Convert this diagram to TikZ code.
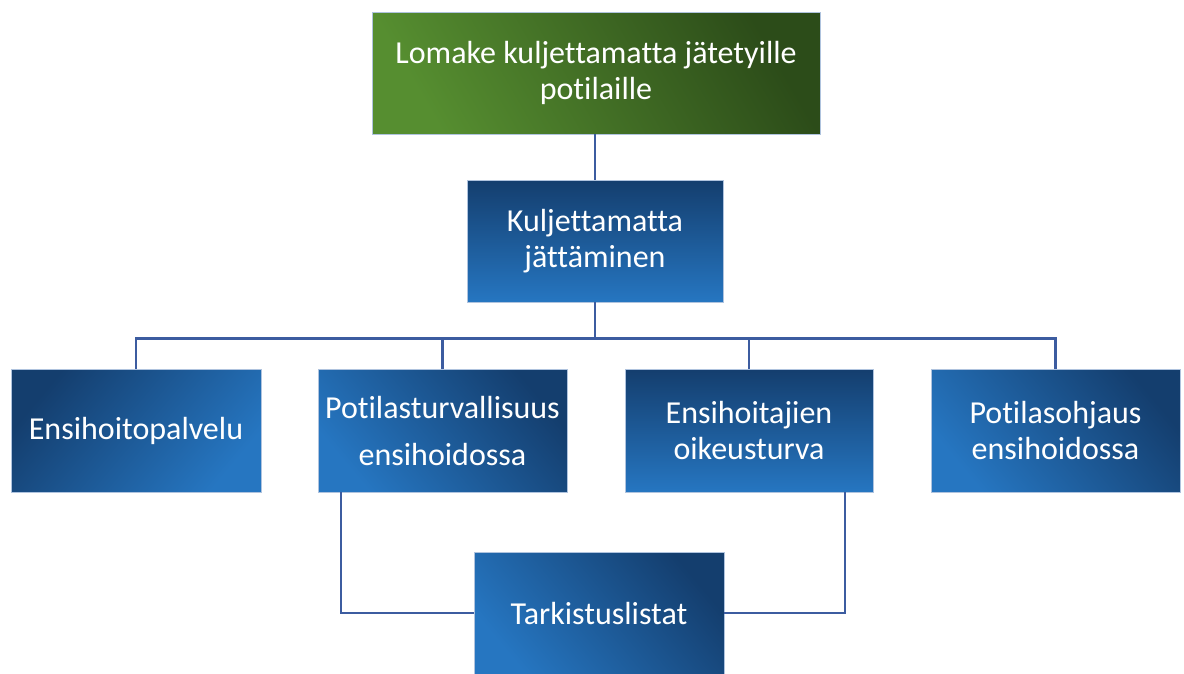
\documentclass[tikz,border=0pt]{standalone}
\usepackage{fontspec}
\setmainfont{Carlito}[Ligatures=NoCommon]
\usetikzlibrary{calc}
\definecolor{bdark}{RGB}{20,62,110}
\definecolor{blight}{RGB}{38,118,193}
\definecolor{gdark}{RGB}{44,76,25}
\definecolor{glight}{RGB}{86,142,48}
\definecolor{lcol}{RGB}{60,92,160}
\definecolor{bord}{RGB}{175,195,222}
\begin{document}
\begin{tikzpicture}[x=1pt,y=-1pt,
  box/.style={draw=bord,line width=0.7pt,inner sep=0pt,
    text=white,align=center,font=\fontsize{32}{36}\selectfont},
  bl/.style={box,minimum height=122pt},
  vgrad/.style={top color=bdark,bottom color=blight},
  trgrad/.style={top color=bdark,bottom color=blight,shading angle=-50},
  tlgrad/.style={top color=bdark,bottom color=blight,shading angle=50},
  conn/.style={draw=lcol,line width=2.6pt}
]
\useasboundingbox (0,0) rectangle (1184,673);
\fill[white] (0,0) rectangle (1184,673);

\node[box,minimum width=448pt,minimum height=122pt,top color=gdark,bottom color=glight,shading angle=-60] (top) at (596,73) {Lomake kuljettamatta jätetyille\\potilaille};
\node[bl,vgrad,minimum width=256pt] (mid) at (595,241) {Kuljettamatta\\jättäminen};

\node[bl,tlgrad,minimum width=250pt,minimum height=123pt] (b1) at (136,430.5) {Ensihoitopalvelu};
\node[bl,trgrad,minimum width=249pt,minimum height=123pt] (b2) at (442.5,430.5) {Potilasturvallisuus\\[11pt]ensihoidossa};
\node[bl,vgrad,minimum width=248pt,minimum height=123pt] (b3) at (749,430.5) {Ensihoitajien\\oikeusturva};
\node[bl,trgrad,minimum width=249pt,minimum height=123pt] (b4) at (1055.5,430.5) {Potilasohjaus\\ensihoidossa};

\node[bl,trgrad,minimum width=250pt] (tk) at (599,613) {Tarkistuslistat};

\draw[conn] (mid.north |- top.south) -- (mid.north);
\coordinate (bus) at ($(mid.south)+(0,36)$);
\draw[conn] (mid.south) -- (bus);
\draw[conn] (b1.north) |- (bus);
\draw[conn] (b4.north) |- (bus);
\draw[conn] (b2.north) -- (b2.north |- bus);
\draw[conn] (b3.north) -- (b3.north |- bus);

\draw[conn] ([xshift=-101.5pt]b2.south) |- (tk.west);
\draw[conn] ([xshift=96pt]b3.south) |- (tk.east);
\end{tikzpicture}
\end{document}
